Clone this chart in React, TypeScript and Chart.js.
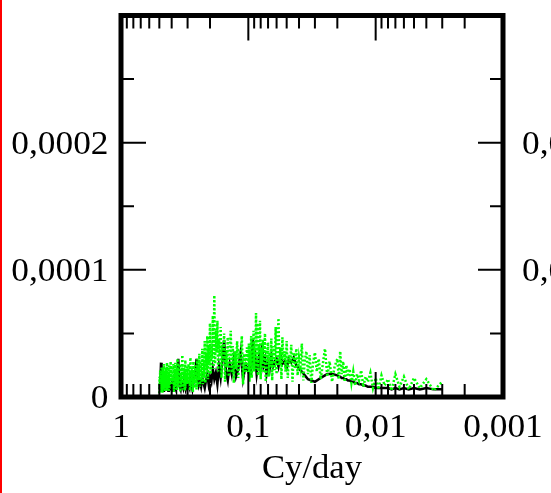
import { useEffect, useRef } from "react";
import { Chart, registerables } from "chart.js";

Chart.register(...registerables);

// Frequency grid (cycles per day) of the smoothed spectrum
const FREQ: number[] = [
  0.5, 0.495, 0.49, 0.485, 0.48, 0.475, 0.47, 0.465, 0.46, 0.455,
  0.45, 0.445, 0.44, 0.435, 0.43, 0.425, 0.42, 0.415, 0.41, 0.405,
  0.4, 0.395, 0.39, 0.385, 0.38, 0.375, 0.37, 0.365, 0.36, 0.355,
  0.35, 0.345, 0.34, 0.335, 0.33, 0.325, 0.32, 0.315, 0.31, 0.305,
  0.3, 0.295, 0.29, 0.285, 0.28, 0.275, 0.27, 0.265, 0.26, 0.255,
  0.25, 0.245, 0.24, 0.235, 0.23, 0.225, 0.22, 0.215, 0.21, 0.205,
  0.2, 0.195, 0.19, 0.185, 0.18, 0.175, 0.17, 0.165, 0.16, 0.155,
  0.15, 0.145, 0.14, 0.135, 0.13, 0.125, 0.12, 0.115, 0.11, 0.105,
  0.1, 0.098, 0.096, 0.094, 0.092, 0.09, 0.088, 0.086, 0.084, 0.082,
  0.08, 0.078, 0.076, 0.074, 0.072, 0.07, 0.068, 0.066, 0.064, 0.062,
  0.06, 0.058, 0.056, 0.054, 0.052, 0.05, 0.048, 0.046, 0.044, 0.042,
  0.04, 0.038, 0.036, 0.034, 0.032, 0.03, 0.028, 0.026, 0.024, 0.022,
  0.02, 0.0195, 0.019, 0.0185, 0.018, 0.0175, 0.017, 0.0165, 0.016, 0.0155,
  0.015, 0.0145, 0.014, 0.0135, 0.013, 0.0125, 0.012, 0.0115, 0.011, 0.0105,
  0.01, 0.0095, 0.009, 0.0085, 0.008, 0.0075, 0.007, 0.0065, 0.006, 0.0055,
  0.005, 0.0045, 0.004, 0.0035, 0.003,
];

// Smoothed spectral power on FREQ, in units of 1e-6
const BLACK_POWER: number[] = [
  6, 9, 14, 27, 12, 7, 10, 5, 8, 11,
  6, 9, 13, 7, 10, 5, 12, 8, 6, 9,
  11, 7, 5, 10, 14, 8, 6, 12, 18, 30,
  15, 8, 6, 11, 9, 7, 13, 10, 6, 8,
  12, 9, 7, 14, 10, 6, 11, 16, 20, 30,
  14, 9, 12, 8, 15, 11, 7, 13, 18, 10,
  16, 12, 22, 14, 19, 10, 24, 15, 28, 45,
  20, 13, 26, 18, 30, 16, 22, 35, 14, 25,
  20, 28, 16, 35, 45, 22, 30, 18, 26, 33,
  20, 42, 25, 30, 18, 27, 22, 32, 24, 28,
  30, 24, 33, 26, 28, 23, 30, 27, 31, 25,
  22, 20, 17, 14, 13, 12, 14, 16, 18, 18,
  17, 16, 16, 15, 15, 14, 14, 13, 13, 12,
  12, 11, 11, 10, 10, 9, 9, 8, 8, 8,
  7, 7, 7, 7, 7, 6, 7, 6, 7, 6,
  7, 6, 7, 6, 6,
];

// Fine frequency grid (cycles per day) of the raw periodogram
const FREQ_FINE: number[] = [
  0.5, 0.4975, 0.495, 0.4925, 0.49, 0.4875, 0.485, 0.4825, 0.48, 0.4775,
  0.475, 0.4725, 0.47, 0.4675, 0.465, 0.4625, 0.46, 0.4575, 0.455, 0.4525,
  0.45, 0.4475, 0.445, 0.4425, 0.44, 0.4375, 0.435, 0.4325, 0.43, 0.4275,
  0.425, 0.4225, 0.42, 0.4175, 0.415, 0.4125, 0.41, 0.4075, 0.405, 0.4025,
  0.4, 0.3975, 0.395, 0.3925, 0.39, 0.3875, 0.385, 0.3825, 0.38, 0.3775,
  0.375, 0.3725, 0.37, 0.3675, 0.365, 0.3625, 0.36, 0.3575, 0.355, 0.3525,
  0.35, 0.3475, 0.345, 0.3425, 0.34, 0.3375, 0.335, 0.3325, 0.33, 0.3275,
  0.325, 0.3225, 0.32, 0.3175, 0.315, 0.3125, 0.31, 0.3075, 0.305, 0.3025,
  0.3, 0.2975, 0.295, 0.2925, 0.29, 0.2875, 0.285, 0.2825, 0.28, 0.2775,
  0.275, 0.2725, 0.27, 0.2675, 0.265, 0.2625, 0.26, 0.2575, 0.255, 0.2525,
  0.25, 0.2475, 0.245, 0.2425, 0.24, 0.2375, 0.235, 0.2325, 0.23, 0.2275,
  0.225, 0.2225, 0.22, 0.2175, 0.215, 0.2125, 0.21, 0.2075, 0.205, 0.2025,
  0.2, 0.1975, 0.195, 0.1925, 0.19, 0.1875, 0.185, 0.1825, 0.18, 0.1775,
  0.175, 0.1725, 0.17, 0.1675, 0.165, 0.1625, 0.16, 0.1575, 0.155, 0.1525,
  0.15, 0.1475, 0.145, 0.1425, 0.14, 0.1375, 0.135, 0.1325, 0.13, 0.1275,
  0.125, 0.1225, 0.12, 0.1175, 0.115, 0.1125, 0.11, 0.1075, 0.105, 0.1025,
  0.1, 0.099, 0.098, 0.097, 0.096, 0.095, 0.094, 0.093, 0.092, 0.091,
  0.09, 0.089, 0.088, 0.087, 0.086, 0.085, 0.084, 0.083, 0.082, 0.081,
  0.08, 0.079, 0.078, 0.077, 0.076, 0.075, 0.074, 0.073, 0.072, 0.071,
  0.07, 0.069, 0.068, 0.067, 0.066, 0.065, 0.064, 0.063, 0.062, 0.061,
  0.06, 0.059, 0.058, 0.057, 0.056, 0.055, 0.054, 0.053, 0.052, 0.051,
  0.05, 0.049, 0.048, 0.047, 0.046, 0.045, 0.044, 0.043, 0.042, 0.041,
  0.04, 0.039, 0.038, 0.037, 0.036, 0.035, 0.034, 0.033, 0.032, 0.031,
  0.03, 0.029, 0.028, 0.027, 0.026, 0.025, 0.024, 0.023, 0.022, 0.021,
  0.02, 0.0195, 0.019, 0.0185, 0.018, 0.0175, 0.017, 0.0165, 0.016, 0.0155,
  0.015, 0.0145, 0.014, 0.0135, 0.013, 0.0125, 0.012, 0.0115, 0.011, 0.0105,
  0.01, 0.0095, 0.009, 0.0085, 0.008, 0.0075, 0.007, 0.0065, 0.006, 0.0055,
  0.005, 0.0045, 0.004, 0.0035, 0.003,
];

// Raw periodogram power on FREQ_FINE, in units of 1e-6
const GREEN_POWER: number[] = [
  3, 16, 6, 21, 4, 12, 19, 5, 24, 8,
  15, 3, 22, 10, 17, 5, 26, 7, 14, 20,
  4, 18, 9, 23, 6, 13, 27, 5, 19, 11,
  22, 4, 16, 25, 7, 20, 9, 28, 6, 17,
  12, 24, 5, 19, 8, 26, 4, 15, 21, 9,
  27, 6, 18, 11, 23, 5, 30, 10, 16, 7,
  21, 13, 26, 4, 19, 8, 24, 12, 33, 6,
  17, 25, 9, 22, 5, 29, 11, 18, 7, 24,
  14, 6, 26, 10, 20, 5, 31, 13, 8, 23,
  17, 4, 28, 11, 21, 7, 25, 15, 6, 30,
  9, 24, 14, 34, 8, 27, 18, 12, 38, 10,
  29, 16, 44, 11, 35, 21, 48, 14, 40, 25,
  58, 18, 42, 30, 64, 22, 80, 26, 52, 35,
  60, 20, 46, 32, 55, 15, 41, 28, 50, 12,
  37, 24, 47, 16, 33, 52, 19, 40, 11, 36,
  22, 44, 15, 31, 26, 48, 10, 34, 20, 39,
  18, 42, 12, 36, 24, 48, 15, 39, 28, 52,
  20, 44, 31, 66, 22, 58, 17, 41, 35, 60,
  14, 38, 26, 45, 19, 33, 50, 12, 37, 27,
  43, 16, 35, 24, 46, 13, 30, 40, 21, 55,
  18, 42, 62, 25, 39, 14, 47, 29, 36, 20,
  44, 15, 33, 26, 41, 12, 35, 22, 38, 17,
  31, 24, 42, 13, 29, 36, 18, 33, 11, 27,
  35, 20, 30, 14, 26, 38, 16, 28, 12, 24,
  30, 14, 36, 18, 28, 12, 25, 16, 22, 11,
  20, 9, 18, 13, 21, 8, 16, 12, 19, 7,
  15, 6, 17, 9, 14, 5, 18, 8, 16, 6,
  15, 7, 14, 5, 12,
];

const POWER_UNIT = 1e-6;
const X_TICKS = [1, 0.1, 0.01, 0.001];
const X_DECADES = [1, 0.1, 0.01];
const Y_TICKS = [0, 0.0001, 0.0002];
const Y_MAJOR = [0.0001, 0.0002];
const Y_MINOR = [0.00005, 0.00015, 0.00025];
const Y_NEIGHBOR_TICKS = [0.0001, 0.0002];
const X_TITLE = "Cy/day";

const SERIF = "'Liberation Serif', 'Times New Roman', serif";
const TICK_FONT = `34px ${SERIF}`;
const TITLE_FONT = `34px ${SERIF}`;

const fmt = (v: number) => String(v).replace(".", ",");

function drawText(ctx: CanvasRenderingContext2D, text: string, x: number, y: number, align: CanvasTextAlign, sx: number) {
  ctx.save();
  ctx.translate(x, y);
  ctx.scale(sx, 1);
  ctx.textAlign = align;
  ctx.fillText(text, 0, 0);
  ctx.restore();
}

const framePlugin = {
  id: "frameAndTicks",
  afterDatasetsDraw(chart: any) {
    const { ctx, chartArea: a, scales } = chart;
    const xs = scales.x;
    const ys = scales.y;
    ctx.save();
    ctx.strokeStyle = "#000";
    ctx.lineWidth = 2;
    ctx.beginPath();
    // x ticks on top and bottom edges, pointing inward
    for (const d of X_DECADES) {
      for (let m = 1; m <= 9; m++) {
        const v = (d * m) / 10;
        const len = m === 1 ? 25 : 13;
        const p = xs.getPixelForValue(v);
        ctx.moveTo(p, a.top);
        ctx.lineTo(p, a.top + len);
        ctx.moveTo(p, a.bottom);
        ctx.lineTo(p, a.bottom - len);
      }
    }
    // y ticks on left and right edges, pointing inward
    for (const v of Y_MAJOR) {
      const p = ys.getPixelForValue(v);
      ctx.moveTo(a.left, p);
      ctx.lineTo(a.left + 25, p);
      ctx.moveTo(a.right, p);
      ctx.lineTo(a.right - 25, p);
    }
    for (const v of Y_MINOR) {
      const p = ys.getPixelForValue(v);
      ctx.moveTo(a.left, p);
      ctx.lineTo(a.left + 13, p);
      ctx.moveTo(a.right, p);
      ctx.lineTo(a.right - 13, p);
    }
    ctx.stroke();
    ctx.lineWidth = 5;
    ctx.strokeRect(a.left, a.top, a.right - a.left, a.bottom - a.top);
    ctx.restore();
  },
  afterDraw(chart: any) {
    const { ctx, chartArea: a, scales } = chart;
    const xs = scales.x;
    const ys = scales.y;
    ctx.save();
    ctx.fillStyle = "#000";
    ctx.font = TICK_FONT;
    ctx.textBaseline = "alphabetic";
    for (const v of Y_TICKS) {
      drawText(ctx, fmt(v), a.left - 12.5, ys.getPixelForValue(v) + 11, "right", 1.04);
    }
    for (const v of Y_NEIGHBOR_TICKS) {
      drawText(ctx, fmt(v), a.right + 19, ys.getPixelForValue(v) + 11, "left", 1.04);
    }
    for (const v of X_TICKS) {
      drawText(ctx, fmt(v), xs.getPixelForValue(v), a.bottom + 39.5, "center", 1.04);
    }
    ctx.font = TITLE_FONT;
    drawText(ctx, X_TITLE, (a.left + a.right) / 2, a.bottom + 81, "center", 1.02);
    ctx.restore();
  },
};

export default function App() {
  const canvasRef = useRef<HTMLCanvasElement | null>(null);

  useEffect(() => {
    const canvas = canvasRef.current;
    if (!canvas) return;
    const green = FREQ_FINE.map((f, i) => ({ x: f, y: GREEN_POWER[i] * POWER_UNIT }));
    const black = FREQ.map((f, i) => ({ x: f, y: BLACK_POWER[i] * POWER_UNIT }));
    const chart = new Chart(canvas, {
      type: "line",
      data: {
        datasets: [
          {
            data: green,
            borderColor: "#00ff00",
            borderWidth: 2.5,
            borderDash: [2, 2],
            pointRadius: 0,
            tension: 0,
            order: 0,
          },
          {
            data: black,
            borderColor: "#000000",
            borderWidth: 2.5,
            pointRadius: 0,
            tension: 0,
            order: 1,
          },
        ],
      },
      options: {
        animation: false,
        responsive: false,
        maintainAspectRatio: false,
        layout: { padding: { left: 121, right: 48, top: 15.5, bottom: 96 } },
        plugins: { legend: { display: false }, tooltip: { enabled: false } },
        scales: {
          x: { type: "logarithmic", reverse: true, min: 0.001, max: 1, display: false },
          y: { type: "linear", min: 0, max: 0.0003, display: false },
        },
      },
      plugins: [framePlugin],
    });
    return () => chart.destroy();
  }, []);

  return (
    <div style={{ position: "absolute", left: 0, top: 0, width: 551, height: 493, background: "#fff" }}>
      <canvas ref={canvasRef} width={551} height={493} style={{ display: "block" }} />
      <div style={{ position: "absolute", left: 0, top: 0, width: 2, height: 493, background: "#ff0000" }} />
    </div>
  );
}
